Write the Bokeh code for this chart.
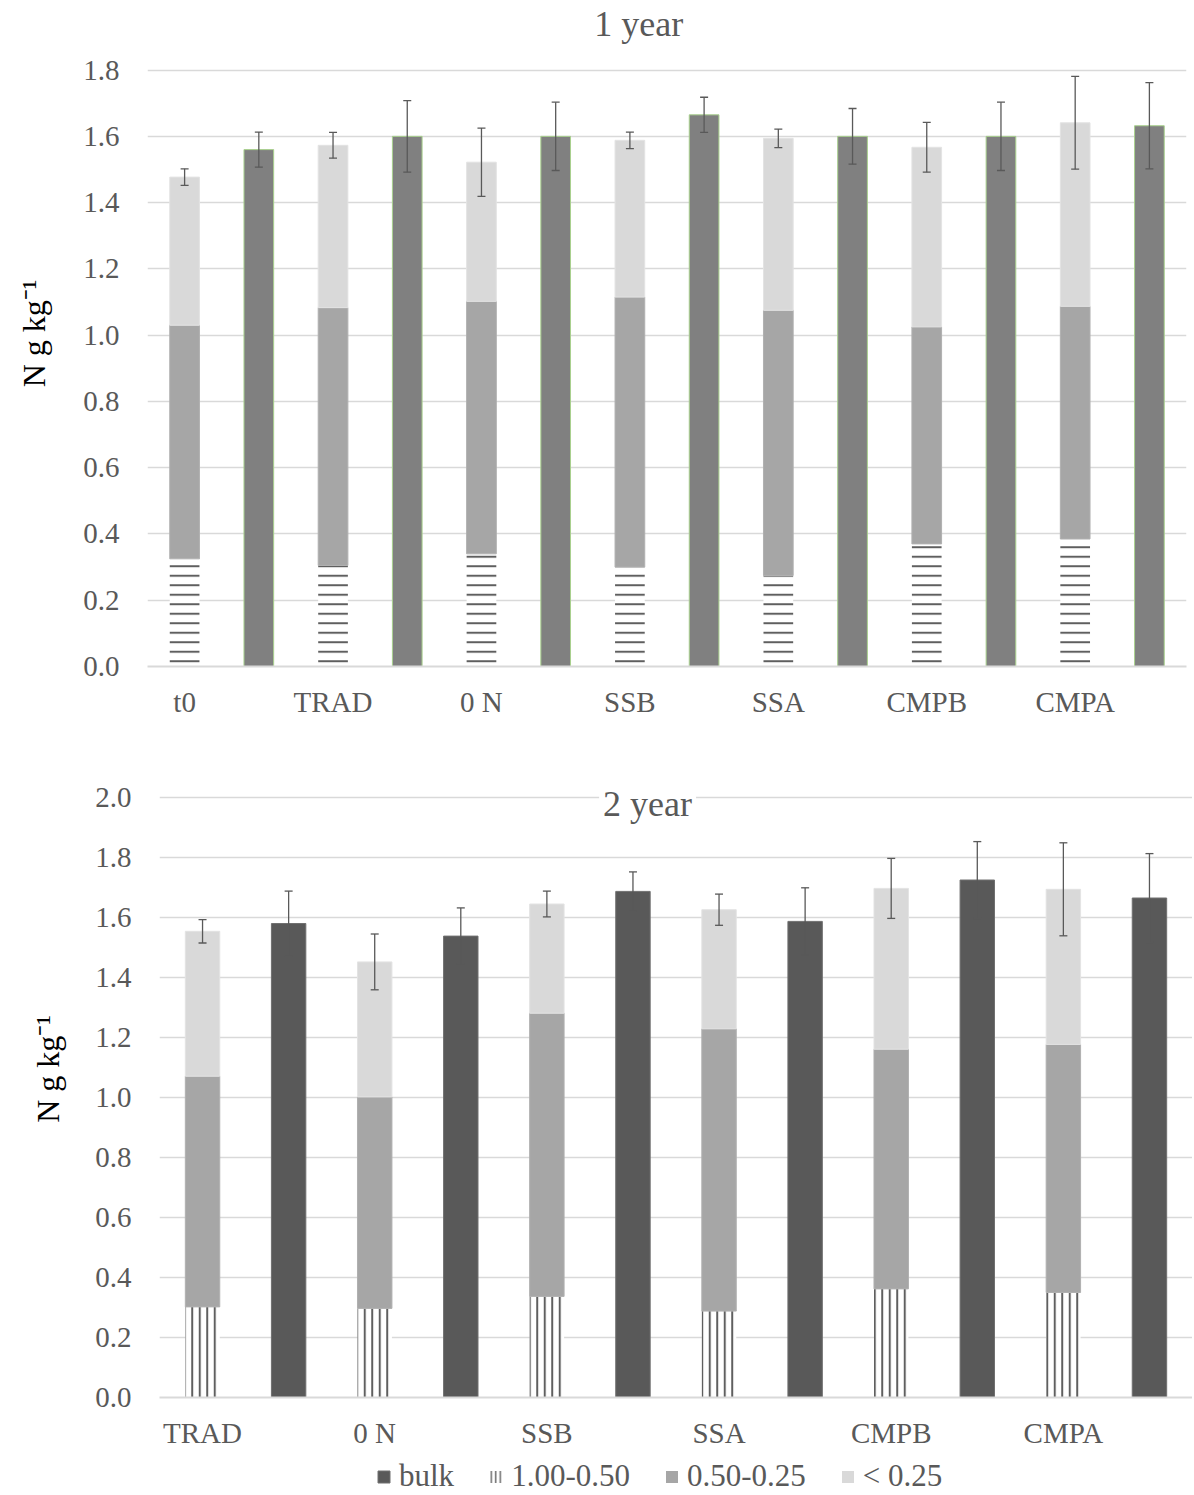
import numpy as np
from bokeh.plotting import figure
from bokeh.models import (ColumnDataSource, Range1d, FixedTicker, PrintfTickFormatter,
                          Whisker, TeeHead, Label, Legend, LegendItem)
from bokeh.layouts import column
from bokeh.embed import file_html
from bokeh.resources import INLINE

# ---------------- data ----------------
# Year 1
y1_treat = ["t0", "TRAD", "0 N", "SSB", "SSA", "CMPB", "CMPA"]
y1_f100_050 = [0.325, 0.305, 0.340, 0.300, 0.275, 0.370, 0.385]
y1_f050_025 = [0.705, 0.778, 0.762, 0.815, 0.800, 0.655, 0.702]
y1_f_lt025 = [0.447, 0.490, 0.420, 0.473, 0.519, 0.542, 0.554]
y1_frac_err = [0.025, 0.039, 0.103, 0.025, 0.028, 0.075, 0.140]
y1_bulk = [1.560, 1.600, 1.600, 1.665, 1.600, 1.600, 1.632]
y1_bulk_err = [0.053, 0.108, 0.103, 0.053, 0.084, 0.103, 0.130]

# Year 2
y2_treat = ["TRAD", "0 N", "SSB", "SSA", "CMPB", "CMPA"]
y2_f100_050 = [0.302, 0.297, 0.337, 0.288, 0.362, 0.350]
y2_f050_025 = [0.769, 0.705, 0.944, 0.941, 0.799, 0.827]
y2_f_lt025 = [0.483, 0.450, 0.364, 0.397, 0.536, 0.517]
y2_frac_err = [0.039, 0.093, 0.043, 0.052, 0.100, 0.155]
y2_bulk = [1.580, 1.538, 1.687, 1.587, 1.725, 1.665]
y2_bulk_err = [0.108, 0.094, 0.065, 0.112, 0.128, 0.148]

legend_labels = ["bulk", "1.00-0.50", "0.50-0.25", "< 0.25"]

FONT = "Liberation Serif"
GRAY_TXT = "#595959"
MID_FILL = "#a6a6a6"
LOW_FILL = "#d9d9d9"


def make_panel(treat, f1, f2, f3, ferr, bulk, berr, ytick_max, yend, ystep,
               bulk_fill, bulk_line, hatch, hscale, width, height,
               bl, br, bb, title, title_x, title_y, title_bg, ylabel_standoff):
    n = len(treat)
    idx = np.arange(n)
    xs_stack = 2 * idx
    xs_bulk = 2 * idx + 1
    f1 = np.array(f1); f2 = np.array(f2); f3 = np.array(f3)
    b1 = np.zeros(n); t1 = f1
    b2 = t1; t2 = t1 + f2
    b3 = t2; t3 = t2 + f3

    p = figure(width=width, height=height, output_backend="svg", toolbar_location=None,
               x_range=Range1d(-0.5, 2 * n - 0.5), y_range=Range1d(0, yend),
               min_border_left=bl, min_border_right=br, min_border_top=0, min_border_bottom=bb)
    p.frame_align = False
    p.outline_line_color = None
    p.background_fill_color = "white"
    p.border_fill_color = "white"

    src = ColumnDataSource(dict(x=xs_stack, b1=b1, t1=t1, b2=b2, t2=t2, b3=b3, t3=t3,
                                up=t3 + np.array(ferr), lo=t3 - np.array(ferr)))
    bsrc = ColumnDataSource(dict(x=xs_bulk, top=np.array(bulk),
                                 up=np.array(bulk) + np.array(berr),
                                 lo=np.array(bulk) - np.array(berr)))

    r_h = p.vbar(x="x", bottom="b1", top="t1", width=0.4, source=src,
                 fill_color="white", line_color=None,
                 hatch_pattern=hatch, hatch_color="#5f5f5f", hatch_weight=2, hatch_scale=hscale)
    r_m = p.vbar(x="x", bottom="b2", top="t2", width=0.4, source=src,
                 fill_color=MID_FILL, line_color="#b0b0b0", line_width=1)
    r_l = p.vbar(x="x", bottom="b3", top="t3", width=0.4, source=src,
                 fill_color=LOW_FILL, line_color="#e3e3e3", line_width=1)
    r_b = p.vbar(x="x", bottom=0, top="top", width=0.4, source=bsrc,
                 fill_color=bulk_fill, line_color=bulk_line, line_width=1)

    for s in (src, bsrc):
        w = Whisker(source=s, base="x", upper="up", lower="lo", level="overlay",
                    line_color="#595959", line_width=1.3,
                    upper_head=TeeHead(size=8, line_color="#595959", line_width=1.3),
                    lower_head=TeeHead(size=8, line_color="#595959", line_width=1.3))
        p.add_layout(w)

    # axes
    p.xgrid.visible = False
    p.ygrid.grid_line_color = "#d9d9d9"
    p.ygrid.grid_line_width = 1.5
    nt = int(round(ytick_max / ystep))
    ticker = FixedTicker(ticks=[round(i * ystep, 2) for i in range(nt + 1)])
    p.yaxis.ticker = ticker
    p.ygrid.ticker = ticker
    p.yaxis.formatter = PrintfTickFormatter(format="%.1f")
    p.yaxis.axis_line_color = None
    p.yaxis.major_tick_line_color = None
    p.yaxis.minor_tick_line_color = None
    p.yaxis.major_tick_out = 0
    p.yaxis.major_tick_in = 0
    p.yaxis.major_label_standoff = 28
    p.yaxis.major_label_text_font = FONT
    p.yaxis.major_label_text_font_size = "29px"
    p.yaxis.major_label_text_color = GRAY_TXT
    p.yaxis.axis_label = "N g kg\u207b\u00b9"
    p.yaxis.axis_label_text_font = FONT
    p.yaxis.axis_label_text_font_size = "32px"
    p.yaxis.axis_label_text_font_style = "normal"
    p.yaxis.axis_label_text_color = "black"
    p.yaxis.axis_label_standoff = ylabel_standoff

    p.xaxis.ticker = FixedTicker(ticks=list(xs_stack))
    p.xaxis.major_label_overrides = {int(x): t for x, t in zip(xs_stack, treat)}
    p.xaxis.axis_line_color = "#d9d9d9"
    p.xaxis.axis_line_width = 2
    p.xaxis.major_tick_line_color = None
    p.xaxis.minor_tick_line_color = None
    p.xaxis.major_tick_out = 0
    p.xaxis.major_tick_in = 0
    p.xaxis.major_label_standoff = 19
    p.xaxis.major_label_text_font = FONT
    p.xaxis.major_label_text_font_size = "29px"
    p.xaxis.major_label_text_color = GRAY_TXT

    lab = Label(x=title_x, y=title_y, text=title, text_align="center",
                text_baseline="alphabetic", text_font=FONT, text_font_size="36px",
                text_color=GRAY_TXT)
    if title_bg:
        lab.background_fill_color = "white"
        lab.padding = 4
    p.add_layout(lab)
    return p, (r_b, r_h, r_m, r_l)


# top panel: frame spans the full height above the axis, ticks 0-1.8
p1, _ = make_panel(y1_treat, y1_f100_050, y1_f050_025, y1_f_lt025, y1_frac_err,
                   y1_bulk, y1_bulk_err, 1.8, 2.01, 0.2, "#808080", "#a9d18e", "-", 9.5,
                   1192, 740, 147, 6, 74, "1 year", 6.12, 1.94, False, 28)

# bottom panel: ticks 0-2.0
p2, rs = make_panel(y2_treat, y2_f100_050, y2_f050_025, y2_f_lt025, y2_frac_err,
                    y2_bulk, y2_bulk_err, 2.0, 2.19, 0.2, "#595959", "#707070", "|", 7.5,
                    1192, 717, 159, 0, 60, "2 year", 5.17, 1.98, True, 26)

# legend strip (legend renderers hold points outside the visible range)
p3 = figure(width=1192, height=37, output_backend="svg", toolbar_location=None,
            x_range=Range1d(0, 1), y_range=Range1d(0, 1),
            min_border_left=0, min_border_right=0, min_border_top=0, min_border_bottom=0)
p3.frame_align = False
p3.axis.visible = False
p3.grid.visible = False
p3.outline_line_color = None
off = dict(x=[-10], top=[-10])
l_b = p3.vbar(x="x", top="top", source=ColumnDataSource(off), width=0.1,
              fill_color="#595959", line_color="#707070")
l_h = p3.vbar(x="x", top="top", source=ColumnDataSource(off), width=0.1,
              fill_color="white", line_color=None,
              hatch_pattern="|", hatch_color="#6a6a6a", hatch_weight=1.5, hatch_scale=4.5)
l_m = p3.vbar(x="x", top="top", source=ColumnDataSource(off), width=0.1,
              fill_color=MID_FILL, line_color=None)
l_l = p3.vbar(x="x", top="top", source=ColumnDataSource(off), width=0.1,
              fill_color=LOW_FILL, line_color=None)
legend = Legend(items=[LegendItem(label=l, renderers=[r])
                       for l, r in zip(legend_labels, (l_b, l_h, l_m, l_l))],
                orientation="horizontal", location=(376, 0),
                label_text_font=FONT, label_text_font_size="31px", label_text_color=GRAY_TXT,
                glyph_width=15, glyph_height=15, spacing=34, label_standoff=8,
                padding=0, margin=0, border_line_color=None, background_fill_alpha=0)
p3.add_layout(legend, "center")

layout = column(p1, p2, p3, spacing=0)
open("out.html", "w").write(file_html(layout, INLINE))
